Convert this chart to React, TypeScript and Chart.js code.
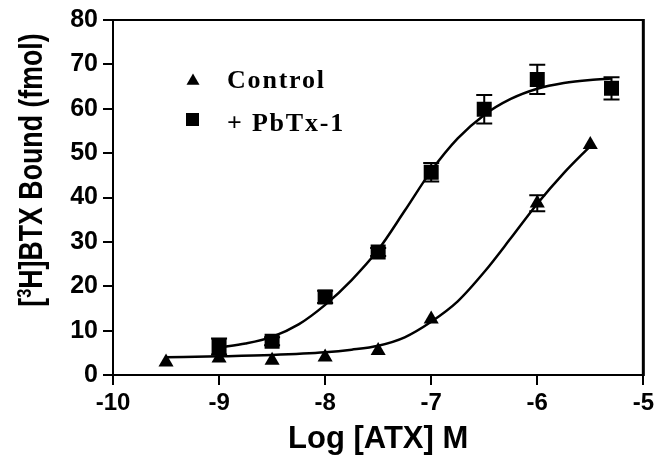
import { useEffect, useRef } from 'react';
import { Chart, registerables } from 'chart.js';

Chart.register(...registerables);

// ---- data ----
const xMin = -10;
const xMax = -5;
const yMin = 0;
const yMax = 80;
const xStep = 1;
const yStep = 10;

const controlX = [-9.5, -9, -8.5, -8, -7.5, -7, -6, -5.5];
const controlY = [2.9, 3.8, 3.3, 4.0, 5.5, 12.6, 38.7, 51.9];
const controlErr = [0, 0, 0, 0, 0, 0, 1.8, 0];

const pbtxX = [-9, -8.5, -8, -7.5, -7, -6.5, -6, -5.3];
const pbtxY = [6.4, 7.6, 17.6, 27.7, 45.7, 59.9, 66.6, 64.6];
const pbtxErr = [1.8, 0.9, 1.4, 0.9, 2.1, 3.2, 3.3, 2.5];

// fitted curves
const controlFitX = [-9.5, -9, -8.5, -8, -7.75, -7.5, -7.25, -7, -6.75, -6.5, -6.25, -6, -5.75, -5.5];
const controlFitY = [4.0, 4.2, 4.5, 5.1, 5.7, 6.6, 8.5, 12.0, 16.6, 23.2, 30.8, 38.6, 45.5, 51.6];

const pbtxFitX = [-9, -8.75, -8.5, -8.25, -8, -7.75, -7.5, -7.25, -7, -6.75, -6.5, -6.25, -6, -5.75, -5.5, -5.3];
const pbtxFitY = [6.2, 7.1, 8.6, 11.4, 15.8, 21.4, 28.2, 37.0, 46.0, 53.3, 58.6, 62.2, 64.5, 65.8, 66.5, 66.8];

const legendLabels = ['Control', '+ PbTx-1'];
const xTitle = 'Log [ATX] M';
const yTitleParts = ['[', '3', 'H]BTX Bound (fmol)'];

const SANS = "'Liberation Sans', Arial, Helvetica, sans-serif";
const SERIF = "'Liberation Serif', 'Times New Roman', Times, serif";

const toPts = (xs: number[], ys: number[]) => xs.map((x, i) => ({ x, y: ys[i] }));

const framePlugin = {
  id: 'frame',
  afterDraw(chart: any) {
    const { ctx, chartArea: a } = chart;
    ctx.save();
    ctx.strokeStyle = '#000';
    ctx.lineWidth = 2;
    ctx.beginPath();
    ctx.moveTo(a.left - 1, a.top);
    ctx.lineTo(a.right, a.top);
    ctx.stroke();
    ctx.lineWidth = 3;
    ctx.beginPath();
    ctx.moveTo(a.right, a.top - 1);
    ctx.lineTo(a.right, a.bottom + 1);
    ctx.stroke();
    ctx.restore();
  },
};

const errorBarPlugin = {
  id: 'errorBars',
  afterDatasetsDraw(chart: any) {
    const { ctx } = chart;
    const xs = chart.scales.x;
    const ys = chart.scales.y;
    const sets = [
      { x: controlX, y: controlY, e: controlErr },
      { x: pbtxX, y: pbtxY, e: pbtxErr },
    ];
    ctx.save();
    ctx.strokeStyle = '#000';
    ctx.lineWidth = 2;
    const cap = 8;
    sets.forEach((s) => {
      s.x.forEach((xv, i) => {
        const e = s.e[i];
        if (!e) return;
        const px = xs.getPixelForValue(xv);
        const top = ys.getPixelForValue(s.y[i] + e);
        const bot = ys.getPixelForValue(s.y[i] - e);
        ctx.beginPath();
        ctx.moveTo(px, top);
        ctx.lineTo(px, bot);
        ctx.moveTo(px - cap, top);
        ctx.lineTo(px + cap, top);
        ctx.moveTo(px - cap, bot);
        ctx.lineTo(px + cap, bot);
        ctx.stroke();
      });
    });
    ctx.restore();
  },
};

const legendPlugin = {
  id: 'insideLegend',
  afterDraw(chart: any) {
    const { ctx, chartArea: a } = chart;
    ctx.save();
    ctx.fillStyle = '#000';
    // triangle marker
    const tx = a.left + 80;
    const ty = a.top + 61;
    const r = 7.5;
    ctx.beginPath();
    for (let k = 0; k < 3; k++) {
      const ang = (k * 2 * Math.PI) / 3;
      const px = tx + Math.sin(ang) * r;
      const py = ty - Math.cos(ang) * r;
      if (k === 0) ctx.moveTo(px, py);
      else ctx.lineTo(px, py);
    }
    ctx.closePath();
    ctx.fill();
    // square marker
    const sx = a.left + 79.5;
    const sy = a.top + 99.5;
    const h = 6.5;
    ctx.fillRect(sx - h, sy - h, 2 * h, 2 * h);
    // labels
    ctx.font = `bold 26px ${SERIF}`;
    (ctx as any).letterSpacing = '1.8px';
    ctx.textAlign = 'left';
    ctx.textBaseline = 'alphabetic';
    ctx.fillText(legendLabels[0], a.left + 114, a.top + 68);
    ctx.fillText(legendLabels[1], a.left + 114, a.top + 111);
    ctx.restore();
  },
};

const yTitlePlugin = {
  id: 'yTitle',
  afterDraw(chart: any) {
    const { ctx } = chart;
    ctx.save();
    ctx.fillStyle = '#000';
    ctx.textBaseline = 'alphabetic';
    ctx.textAlign = 'left';
    const bigFont = `bold 33px ${SANS}`;
    const supFont = `bold 20px ${SANS}`;
    ctx.font = bigFont;
    const w0 = ctx.measureText(yTitleParts[0]).width;
    const w2 = ctx.measureText(yTitleParts[2]).width;
    ctx.font = supFont;
    const w1 = ctx.measureText(yTitleParts[1]).width;
    const total = w0 + w1 + w2;
    ctx.translate(42, 170);
    ctx.rotate(-Math.PI / 2);
    ctx.scale(0.81, 1);
    let cx = -total / 2;
    ctx.font = bigFont;
    ctx.fillText(yTitleParts[0], cx, 0);
    cx += w0;
    ctx.font = supFont;
    ctx.fillText(yTitleParts[1], cx, -11);
    cx += w1;
    ctx.font = bigFont;
    ctx.fillText(yTitleParts[2], cx, 0);
    ctx.restore();
  },
};

export default function App() {
  const ref = useRef<HTMLCanvasElement | null>(null);

  useEffect(() => {
    const canvas = ref.current;
    if (!canvas) return;
    const chart = new Chart(canvas, {
      type: 'scatter',
      data: {
        datasets: [
          {
            label: 'Control fit',
            data: toPts(controlFitX, controlFitY),
            showLine: true,
            pointRadius: 0,
            borderColor: '#000',
            borderWidth: 2.5,
            cubicInterpolationMode: 'monotone',
            fill: false,
            order: 3,
          } as any,
          {
            label: 'PbTx-1 fit',
            data: toPts(pbtxFitX, pbtxFitY),
            showLine: true,
            pointRadius: 0,
            borderColor: '#000',
            borderWidth: 2.5,
            cubicInterpolationMode: 'monotone',
            fill: false,
            order: 3,
          } as any,
          {
            label: legendLabels[0],
            data: toPts(controlX, controlY),
            showLine: false,
            pointStyle: 'triangle',
            pointRadius: 8.7,
            backgroundColor: '#000',
            borderColor: '#000',
            borderWidth: 0,
            order: 1,
          } as any,
          {
            label: legendLabels[1],
            data: toPts(pbtxX, pbtxY),
            showLine: false,
            pointStyle: 'rect',
            pointRadius: 10.6,
            backgroundColor: '#000',
            borderColor: '#000',
            borderWidth: 0,
            order: 1,
          } as any,
        ],
      },
      options: {
        responsive: false,
        animation: false,
        devicePixelRatio: 1,
        events: [],
        layout: { padding: { left: 0, top: 19, right: 12, bottom: 0 } },
        plugins: {
          legend: { display: false },
          tooltip: { enabled: false },
          title: { display: false },
        },
        scales: {
          x: {
            type: 'linear',
            min: xMin,
            max: xMax,
            afterFit: (s: any) => {
              s.height = 85;
            },
            ticks: {
              stepSize: xStep,
              color: '#000',
              padding: 4,
              maxRotation: 0,
              autoSkip: false,
              font: { family: SANS, weight: 'bold', size: 24 },
            },
            grid: {
              drawOnChartArea: false,
              drawTicks: true,
              tickLength: 10,
              color: '#000',
              lineWidth: 2,
            },
            border: { display: true, color: '#000', width: 2 },
            title: {
              display: true,
              text: xTitle,
              color: '#000',
              font: { family: SANS, weight: 'bold', size: 31 },
              padding: { top: 0, bottom: 2 },
            },
          },
          y: {
            type: 'linear',
            min: yMin,
            max: yMax,
            afterFit: (s: any) => {
              s.width = 113;
            },
            ticks: {
              stepSize: yStep,
              color: '#000',
              padding: 5,
              autoSkip: false,
              font: { family: SANS, weight: 'bold', size: 25 },
            },
            grid: {
              drawOnChartArea: false,
              drawTicks: true,
              tickLength: 10,
              color: '#000',
              lineWidth: 2,
            },
            border: { display: true, color: '#000', width: 2 },
          },
        },
      } as any,
      plugins: [framePlugin, errorBarPlugin, legendPlugin, yTitlePlugin],
    });
    return () => chart.destroy();
  }, []);

  return (
    <div style={{ position: 'fixed', left: 0, top: 0, width: 658, height: 460, background: '#fff' }}>
      <canvas ref={ref} width={658} height={460} style={{ display: 'block', width: 658, height: 460 }} />
    </div>
  );
}
